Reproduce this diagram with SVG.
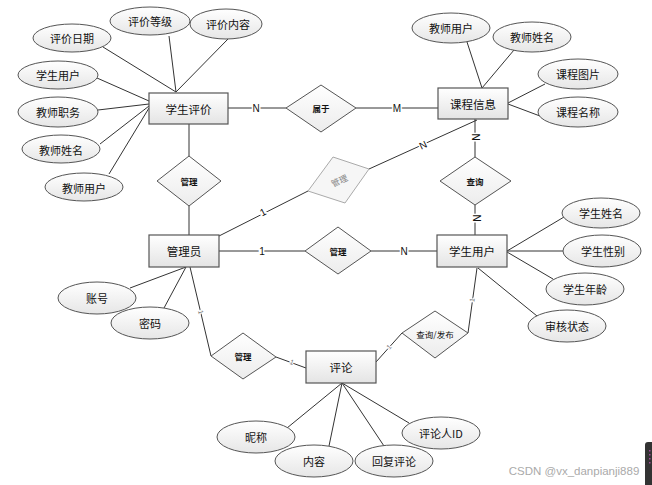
<svg xmlns="http://www.w3.org/2000/svg" width="652" height="485" viewBox="0 0 652 485">
<defs>
<linearGradient id="gEnt" x1="0" y1="0" x2="0" y2="1"><stop offset="0" stop-color="#ffffff"/><stop offset="1" stop-color="#e4e4e4"/></linearGradient>
<linearGradient id="gEl" x1="0" y1="0" x2="0" y2="1"><stop offset="0" stop-color="#ffffff"/><stop offset="1" stop-color="#e6e6e6"/></linearGradient>
<linearGradient id="gDia" x1="0" y1="0" x2="0" y2="1"><stop offset="0" stop-color="#ffffff"/><stop offset="1" stop-color="#ececec"/></linearGradient>
</defs>
<style>
.ent{fill:url(#gEnt);stroke:#555;stroke-width:1.2}
.att{fill:url(#gEl);stroke:#555;stroke-width:1}
.dia{fill:url(#gDia);stroke:#555;stroke-width:1}
.t{font-family:"Noto Sans CJK SC","Liberation Sans",sans-serif;font-size:11px;fill:#111;text-anchor:middle;dominant-baseline:central}
.te{font-family:"Noto Sans CJK SC","Liberation Sans",sans-serif;font-size:11.5px;fill:#111;text-anchor:middle;dominant-baseline:central}
.td{font-family:"Noto Sans CJK SC","Liberation Sans",sans-serif;font-size:8.5px;font-weight:bold;fill:#111;text-anchor:middle;dominant-baseline:central}
.ln{stroke:#333;stroke-width:1;fill:none}
.lb{font-family:"Liberation Sans",sans-serif;font-size:10px;fill:#111;text-anchor:middle;dominant-baseline:central;paint-order:stroke;stroke:#fff;stroke-width:3px}
.lbs{font-family:"Liberation Sans",sans-serif;font-size:7px;fill:#777;text-anchor:middle;dominant-baseline:central;paint-order:stroke;stroke:#fff;stroke-width:2px}
</style>
<rect width="652" height="485" fill="#fff"/>

<g id="connectors">
<line class="ln" x1="103" y1="47" x2="176" y2="92"/>
<line class="ln" x1="169" y1="36" x2="176" y2="92"/>
<line class="ln" x1="228" y1="39" x2="176" y2="92"/>
<line class="ln" x1="97" y1="78" x2="149" y2="101"/>
<line class="ln" x1="98" y1="110" x2="149" y2="104"/>
<line class="ln" x1="100" y1="144" x2="149" y2="106"/>
<line class="ln" x1="109" y1="174" x2="149" y2="108"/>
<line class="ln" x1="467" y1="42" x2="482" y2="88"/>
<line class="ln" x1="514" y1="50" x2="482" y2="88"/>
<line class="ln" x1="545" y1="84" x2="508" y2="103"/>
<line class="ln" x1="540" y1="116" x2="508" y2="104"/>
<line class="ln" x1="507" y1="251" x2="564" y2="217"/>
<line class="ln" x1="507" y1="251" x2="563" y2="251"/>
<line class="ln" x1="507" y1="252" x2="553" y2="279"/>
<line class="ln" x1="478" y1="268" x2="537" y2="316"/>
<line class="ln" x1="130" y1="288" x2="186" y2="267"/>
<line class="ln" x1="164" y1="308" x2="186" y2="267"/>
<line class="ln" x1="342" y1="383" x2="287" y2="428"/>
<line class="ln" x1="342" y1="383" x2="329" y2="446"/>
<line class="ln" x1="342" y1="383" x2="384" y2="446"/>
<line class="ln" x1="342" y1="383" x2="409" y2="423"/>
<line class="ln" x1="228" y1="108" x2="286" y2="108"/>
<line class="ln" x1="356" y1="108" x2="438" y2="108"/>
<line class="ln" x1="189" y1="124" x2="189" y2="156"/>
<line class="ln" x1="189" y1="206" x2="189" y2="235"/>
<line class="ln" x1="475" y1="119" x2="475" y2="157"/>
<line class="ln" x1="475" y1="205" x2="475" y2="235"/>
<line class="ln" x1="219" y1="236" x2="308" y2="191"/>
<line class="ln" x1="369" y1="169" x2="477" y2="120"/>
<line class="ln" x1="219" y1="251" x2="305" y2="251"/>
<line class="ln" x1="371" y1="251" x2="437" y2="251"/>
<line class="ln" x1="190" y1="267" x2="211" y2="356"/>
<line class="ln" x1="276" y1="357" x2="306" y2="368"/>
<line class="ln" x1="477" y1="268" x2="468" y2="333"/>
<line class="ln" x1="376" y1="362" x2="402" y2="333"/>
<text class="lb" x="256" y="108">N</text>
<text class="lb" x="397" y="108">M</text>
<text class="lb" x="475" y="137" transform="rotate(90 475 137)">N</text>
<text class="lb" x="476" y="218" transform="rotate(90 476 218)">N</text>
<text class="lb" x="263" y="212" transform="rotate(-27 263 212)">1</text>
<text class="lb" x="423" y="145" transform="rotate(-25 423 145)">N</text>
<text class="lb" x="262" y="251">1</text>
<text class="lb" x="404" y="251">N</text>
<text class="lbs" x="201" y="312" transform="rotate(77 201 312)">1</text>
<text class="lbs" x="292" y="362" transform="rotate(20 292 362)">1</text>
<text class="lbs" x="472" y="300" transform="rotate(-82 472 300)">1</text>
<text class="lbs" x="389" y="347" transform="rotate(-48 389 347)">1</text>
</g>

<g id="学生评价"><rect class="ent" x="149" y="93" width="79" height="31"/><text class="te" x="188.5" y="108.5">学生评价</text></g>
<g id="课程信息"><rect class="ent" x="438" y="88" width="70" height="31"/><text class="te" x="473" y="103.5">课程信息</text></g>
<g id="管理员"><rect class="ent" x="149" y="235" width="70" height="32"/><text class="te" x="184" y="251">管理员</text></g>
<g id="学生用户"><rect class="ent" x="437" y="235" width="70" height="32"/><text class="te" x="472" y="251">学生用户</text></g>
<g id="评论"><rect class="ent" x="306" y="351" width="70" height="32"/><text class="te" x="341" y="367">评论</text></g>

<g id="属于"><polygon class="dia" points="286,108 321,85 356,108 321,132"/><text class="td" x="321" y="108">属于</text></g>
<g id="管理1"><polygon class="dia" points="157,181 189,156 221,181 189,206"/><text class="td" x="189" y="181">管理</text></g>
<g id="查询"><polygon class="dia" points="440,181 475,157 511,181 475,205"/><text class="td" x="475" y="181">查询</text></g>
<g id="管理2"><polygon points="308,191 333,157 369,169 345,203" fill="#f6f6f6" stroke="#aaa" stroke-width="1"/><text class="td" x="339" y="180" style="fill:#888;font-weight:normal" transform="rotate(-25 339 180)">管理</text></g>
<g id="管理3"><polygon class="dia" points="305,251 338,227 371,251 338,274"/><text class="td" x="338" y="251">管理</text></g>
<g id="管理4"><polygon class="dia" points="211,356 243,333 276,357 243,379"/><text class="td" x="243" y="356">管理</text></g>
<g id="查询发布"><polygon class="dia" points="402,333 435,311 468,333 435,358"/><text class="td" x="435" y="334" style="font-weight:normal">查询/发布</text></g>

<g id="评价日期"><ellipse class="att" cx="72" cy="38" rx="39" ry="14"/><text class="t" x="72" y="38">评价日期</text></g>
<g id="评价等级"><ellipse class="att" cx="150" cy="21" rx="40" ry="14"/><text class="t" x="150" y="21">评价等级</text></g>
<g id="评价内容"><ellipse class="att" cx="226" cy="24" rx="36" ry="15"/><text class="t" x="228" y="24">评价内容</text></g>
<g id="学生用户属性"><ellipse class="att" cx="58" cy="75" rx="40" ry="14"/><text class="t" x="58" y="75">学生用户</text></g>
<g id="教师职务"><ellipse class="att" cx="58" cy="112" rx="40" ry="15"/><text class="t" x="58" y="112">教师职务</text></g>
<g id="教师姓名1"><ellipse class="att" cx="61" cy="149" rx="39" ry="14"/><text class="t" x="61" y="150">教师姓名</text></g>
<g id="教师用户1"><ellipse class="att" cx="84" cy="187" rx="39" ry="14"/><text class="t" x="84" y="188">教师用户</text></g>

<g id="教师用户2"><ellipse class="att" cx="451" cy="28" rx="39" ry="15"/><text class="t" x="451" y="28">教师用户</text></g>
<g id="教师姓名2"><ellipse class="att" cx="532" cy="37" rx="39" ry="15"/><text class="t" x="532" y="37">教师姓名</text></g>
<g id="课程图片"><ellipse class="att" cx="578" cy="74" rx="40" ry="15"/><text class="t" x="578" y="74">课程图片</text></g>
<g id="课程名称"><ellipse class="att" cx="578" cy="112" rx="40" ry="15"/><text class="t" x="578" y="112">课程名称</text></g>

<g id="学生姓名"><ellipse class="att" cx="601" cy="213" rx="39" ry="15"/><text class="t" x="601" y="213">学生姓名</text></g>
<g id="学生性别"><ellipse class="att" cx="602" cy="251" rx="39" ry="16"/><text class="t" x="603" y="251">学生性别</text></g>
<g id="学生年龄"><ellipse class="att" cx="585" cy="289" rx="39" ry="16"/><text class="t" x="585" y="289">学生年龄</text></g>
<g id="审核状态"><ellipse class="att" cx="567" cy="326" rx="39" ry="16"/><text class="t" x="567" y="326">审核状态</text></g>

<g id="账号"><ellipse class="att" cx="97" cy="298" rx="39" ry="16"/><text class="t" x="97" y="298">账号</text></g>
<g id="密码"><ellipse class="att" cx="150" cy="323" rx="39" ry="16"/><text class="t" x="150" y="323">密码</text></g>

<g id="昵称"><ellipse class="att" cx="256" cy="437" rx="39" ry="16"/><text class="t" x="256" y="437">昵称</text></g>
<g id="内容"><ellipse class="att" cx="314" cy="461" rx="39" ry="16"/><text class="t" x="314" y="461">内容</text></g>
<g id="回复评论"><ellipse class="att" cx="394" cy="461" rx="39" ry="16"/><text class="t" x="394" y="461">回复评论</text></g>
<g id="评论人ID"><ellipse class="att" cx="441" cy="433" rx="39" ry="16"/><text class="t" x="441" y="433">评论人ID</text></g>

<text x="574" y="471" font-family="Liberation Sans, sans-serif" font-size="11.5" fill="#aaa" text-anchor="middle" dominant-baseline="central">CSDN @vx_danpianji889</text>
<rect x="645" y="442" width="12" height="48" rx="3" fill="#333"/>
<g fill="#a04a9a"><rect x="649" y="450" width="1.5" height="1.5"/><rect x="649" y="454" width="1.5" height="1.5"/><rect x="649" y="458" width="1.5" height="1.5"/><rect x="649" y="462" width="1.5" height="1.5"/></g>
</svg>
